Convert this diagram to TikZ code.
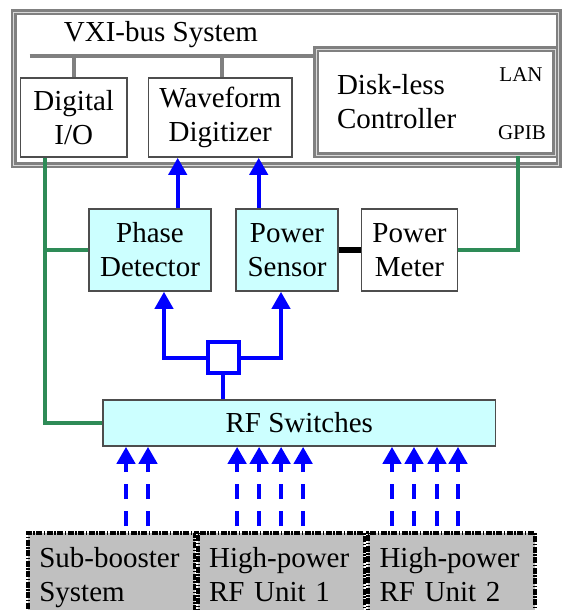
\documentclass[tikz,border=0pt]{standalone}
\usepackage{fontspec}
\setmainfont{Liberation Serif}
\usetikzlibrary{arrows.meta,positioning}
\definecolor{Frame}{HTML}{808080}
\definecolor{Edge}{HTML}{4D4D4D}
\definecolor{SoftCyan}{HTML}{CCFFFF}
\definecolor{Sig}{HTML}{0000FF}
\definecolor{Ctl}{HTML}{2E8B57}
\definecolor{Unit}{HTML}{C0C0C0}

\begin{document}
\begin{tikzpicture}[
  x=1pt,y=-1pt,
  every node/.style={font=\fontsize{29}{34}\selectfont,inner sep=0pt},
  rack/.style={draw=Frame,double=Frame!30,line width=2.6pt,double distance=0.9pt},
  card/.style={draw=Edge,line width=1.6pt,fill=white,align=center},
  det/.style={draw=Edge,line width=1.6pt,fill=SoftCyan,align=center},
  srcbox/.style={draw=black,fill=Unit,line width=3.5pt,dash pattern=on 6pt off 1.5pt on 1.5pt off 1.5pt,text width=144pt,inner xsep=11.3pt,inner ysep=15pt,align=left,anchor=north},
  tag/.style={font=\fontsize{21}{24}\selectfont},
  busline/.style={draw=Frame,line width=4.5pt},
  ctlline/.style={draw=Ctl,line width=3.2pt},
  sigline/.style={draw=Sig,line width=4pt},
  sigarrow/.style={sigline,-{Triangle[length=17pt,width=18pt]}},
  feedarrow/.style={draw=Sig,line width=4.5pt,dash pattern=on 15pt off 12pt,shorten <=5pt,-{Triangle[length=17pt,width=18pt]}}
]
\clip (0,0) rectangle (565,610);
% VXI crate
\node[rack,minimum width=544.9pt,minimum height=153pt] (vxi) at (286.15,88.5) {};
\node (vxitext) at (161,35) {VXI-bus System};
\coordinate (busl) at (29.5,56);
\node[rack,fill=white,minimum width=239pt,minimum height=106pt,text width=197pt,inner xsep=21pt,align=left] (ctl) at (435.5,102) {Disk-less\\Controller};
\node[tag] (lan) at (521,75) {LAN};
\node[tag] (gpib) at (522,133) {GPIB};
\node[card,minimum width=106.5pt,minimum height=79pt] (dio) at (73.75,117.5) {Digital\\I/O};
\node[card,minimum width=143.5pt,minimum height=79pt] (wd) at (220.25,117.5) {Waveform\\Digitizer};
\draw[busline] (busl) -- (busl -| ctl.west);
\draw[busline] (dio.north) -- (dio.north |- busl);
\draw[busline] ([xshift=1.75pt]wd.north) -- ([xshift=1.75pt]wd.north |- busl);

% detectors
\node[det,minimum width=122pt,minimum height=82pt] (pd) at (150,250) {Phase\\Detector};
\node[det,minimum width=102pt,minimum height=82pt] (ps) at (287,250) {Power\\Sensor};
\node[card,minimum width=96pt,minimum height=82pt] (pm) at (409.5,250) {Power\\Meter};
\node[det,minimum width=392.5pt,minimum height=46pt] (rf) at (299.25,423) {RF Switches};
\node[draw=Sig,line width=4pt,fill=white,minimum size=31pt] (spl) at (223,357.5) {};

% RF sources
\node[srcbox] (b1) at (111.3,531) {Sub-booster\\System};
\node[srcbox] (b2) at (281.1,531) {High-power\\RF Unit 1};
\node[srcbox] (b3) at (451.5,531) {High-power\\RF Unit 2};

% control lines
\coordinate (dioout) at ([xshift=-28.75pt]dio.south);
\draw[ctlline] (dioout) |- (rf.west);
\draw[ctlline] (dioout |- pd.west) -- (pd.west);
\draw[ctlline] ([xshift=82.5pt]ctl.south) |- (pm.east);
\draw[line width=6pt] (ps.east) -- (pm.west);

% signal paths
\draw[sigarrow] ([xshift=27.7pt]pd.north) -- ([xshift=27.7pt]pd.north |- wd.south);
\draw[sigarrow] ([xshift=-28.3pt]ps.north) -- ([xshift=-28.3pt]ps.north |- wd.south);
\draw[sigarrow] (spl.west) -| ([xshift=14pt]pd.south);
\draw[sigarrow] (spl.east) -| ([xshift=-6pt]ps.south);
\draw[sigline] (spl.south) -- (spl.south |- rf.north);
\foreach \d in {14.7,36.7}
  \draw[feedarrow] ([xshift=\d pt]b1.north) -- ([xshift=\d pt]b1.north |- rf.south);
\foreach \d in {-44,-22,0,22}
  \draw[feedarrow] ([xshift=\d pt]b2.north) -- ([xshift=\d pt]b2.north |- rf.south);
\foreach \d in {-59.5,-37.5,-14.5,6.5}
  \draw[feedarrow] ([xshift=\d pt]b3.north) -- ([xshift=\d pt]b3.north |- rf.south);
\end{tikzpicture}
\end{document}
